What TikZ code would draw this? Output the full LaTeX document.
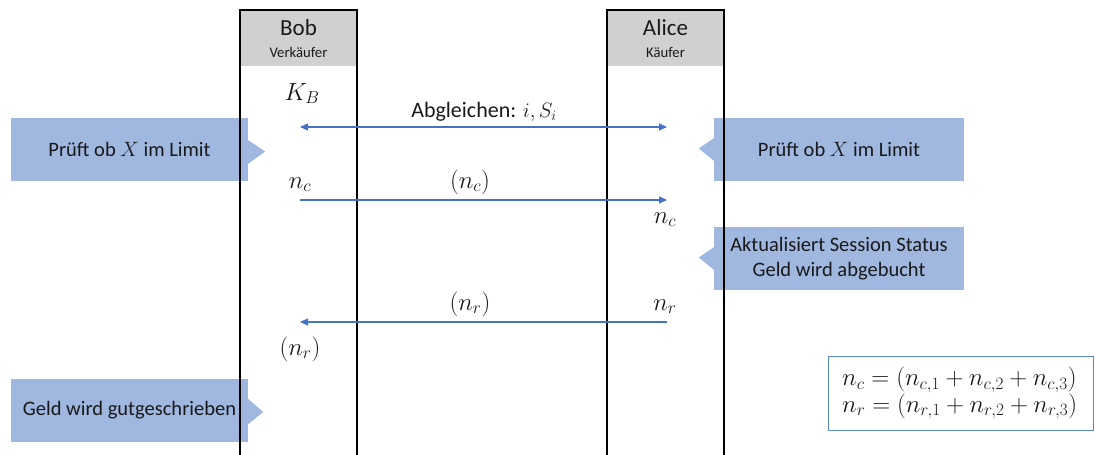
\documentclass[tikz,border=0pt]{standalone}
\usepackage{fontspec}
\setmainfont{Carlito}
\usetikzlibrary{arrows.meta}
\definecolor{callout}{RGB}{160,183,224}
\definecolor{arrowblue}{RGB}{68,114,196}
\definecolor{boxblue}{RGB}{90,135,210}
\definecolor{headgray}{RGB}{208,208,208}
\definecolor{ink}{RGB}{25,25,25}
\begin{document}
\begin{tikzpicture}[x=1pt,y=-1pt,
  >={Triangle[length=8pt,width=7pt]},
  every node/.style={text=ink},
  callbox/.style={fill=callout, draw=none, inner sep=0pt, font=\fontsize{20.5}{25}\selectfont, align=center, minimum width=237pt, minimum height=63pt},
  headbox/.style={fill=headgray, draw=none, inner sep=0pt, minimum width=117pt, minimum height=56pt},
  headname/.style={inner sep=0pt, anchor=base, font=\fontsize{23}{24}\selectfont},
  headrole/.style={inner sep=0pt, anchor=base, font=\fontsize{14.7}{16}\selectfont},
  lifeline/.style={draw=black, line width=1.8pt},
  msg/.style={draw=arrowblue, line width=1.1pt},
  lbl/.style={inner sep=0pt, anchor=base, font=\fontsize{24}{26}\selectfont},
  txtlbl/.style={inner sep=0pt, anchor=base, font=\fontsize{22}{24}\selectfont}]
\useasboundingbox (0,0) rectangle (1095,455);

% callouts
\node[callbox] (cl1) at (129.5,149.5) {Prüft ob $X$ im Limit};
\fill[callout] (cl1.east) +(-1,-10) -- +(17,2) -- +(-1,15) -- cycle;
\node[callbox, minimum width=250pt] (cr1) at (839,149.5) {Prüft ob $X$ im Limit};
\fill[callout] (cr1.west) +(1,-12) -- +(-15,-1) -- +(1,12) -- cycle;
\node[callbox, minimum width=250pt] (cr2) at (839,258.5) {Aktualisiert Session Status\\Geld wird abgebucht};
\fill[callout] (cr2.west) +(1,-12) -- +(-15,-1) -- +(1,12) -- cycle;
\node[callbox] (cl2) at (129.5,410) {Geld wird gutgeschrieben};
\fill[callout] (cl2.east) +(-1,-12) -- +(15,2) -- +(-1,15) -- cycle;

% lifeline heads
\node[headbox] (bob) at (298.5,38) {};
\node[headname] (bobn) at (298.5,35) {Bob};
\node[headrole] (bobr) at (298.5,57) {Verkäufer};
\node[headbox] (alice) at (665.5,38) {};
\node[headname] (alicen) at (665.5,35) {Alice};
\node[headrole] (alicer) at (665.5,57) {Käufer};
\draw[lifeline] (bob.south west |- 0,456) -- (bob.north west) -- (bob.north east) -- (bob.south east |- 0,456);
\draw[lifeline] (alice.south west |- 0,456) -- (alice.north west) -- (alice.north east) -- (alice.south east |- 0,456);

% message end points
\coordinate (b1) at (300,127);
\coordinate (a1) at (667,127);
\coordinate (b2) at (300,200);
\coordinate (a2) at (667,200);
\coordinate (b3) at (300,322);
\coordinate (a3) at (667,322);
\draw[msg, <->] (b1) -- (a1);
\draw[msg, ->] (b2) -- (a2);
\draw[msg, ->] (a3) -- (b3);

% labels
\node[lbl] (kb) at (302,100) {$K_B$};
\node[txtlbl] (abg) at (484,117) {Abgleichen: $i, S_i$};
\node[lbl] (nc1) at (300,188) {$n_c$};
\node[lbl] (nc2) at (470,188) {$(n_c)$};
\node[lbl] (nc3) at (665,223) {$n_c$};
\node[lbl] (nr1) at (470,310) {$(n_r)$};
\node[lbl] (nr2) at (665,310) {$n_r$};
\node[lbl] (nr3) at (300,355) {$(n_r)$};

% formula box
\node[draw=boxblue, line width=1pt, minimum width=265pt, minimum height=74pt, inner sep=0pt] (fbox) at (960.5,393) {};
\node[inner sep=0pt, anchor=west, align=left, font=\fontsize{24}{25}\selectfont] (ftxt) at (842,393)
  {$n_c = \bigl(n_{c,1} + n_{c,2} + n_{c,3}\bigr)$\\$n_r = \bigl(n_{r,1} + n_{r,2} + n_{r,3}\bigr)$};
\end{tikzpicture}
\end{document}
